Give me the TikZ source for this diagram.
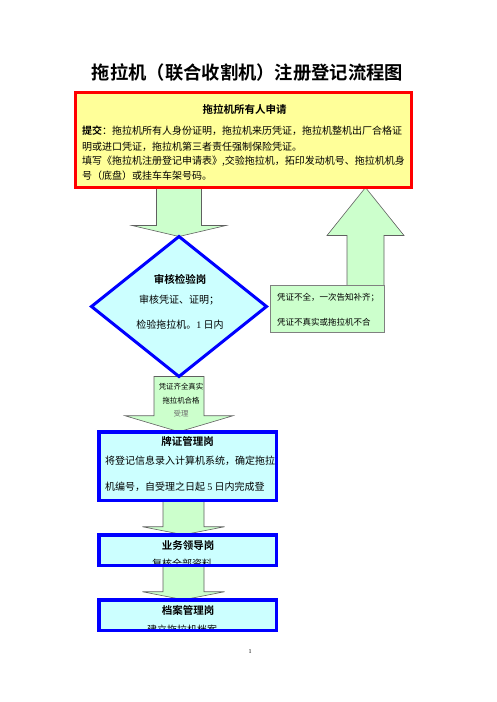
\documentclass[tikz,border=0pt]{standalone}
\usepackage{fontspec}
\setmainfont{Noto Sans CJK SC}[BoldFont={Noto Sans CJK SC Bold}]
\newfontfamily\numfont{Liberation Serif}
\usetikzlibrary{shapes.geometric,calc,backgrounds}

% block arrow: tail, tip, shaft half width, head half width, head length
\newcommand{\blockarrow}[5]{%
  \draw[flowarrow] ($(#1 -| #2)+(-#3,0)$) -- ($(#2)+(-#3,{-(#5)})$) -- ($(#2)+(-#4,{-(#5)})$) -- (#2)
    -- ($(#2)+(#4,{-(#5)})$) -- ($(#2)+(#3,{-(#5)})$) -- ($(#1 -| #2)+(#3,0)$) -- cycle ;}

\tikzset{
  body/.style={inner sep=0pt, font=\fontsize{10}{12}\selectfont, text height=8.8pt, text depth=1.2pt},
  small/.style={inner sep=0pt, font=\fontsize{8.5}{10}\selectfont, text height=7.5pt, text depth=1pt},
  tiny/.style={inner sep=0pt, font=\fontsize{7.4}{8}\selectfont, text height=6.5pt, text depth=0.9pt},
  heading/.style={inner sep=0pt, font=\bfseries\fontsize{10.5}{12}\selectfont, text height=9.2pt, text depth=1.3pt},
  applybox/.style={draw={rgb,255:red,255;green,0;blue,0}, fill={rgb,255:red,255;green,255;blue,153}, line width=3pt, inner sep=0pt, outer sep=0pt},
  bluebox/.style={draw={rgb,255:red,0;green,0;blue,255}, fill={rgb,255:red,204;green,255;blue,255}, line width=3.5pt, inner sep=0pt, outer sep=0pt},
  blueline/.style={draw={rgb,255:red,0;green,0;blue,255}, line width=3.5pt},
  notebox/.style={draw={rgb,255:red,128;green,128;blue,128}, fill={rgb,255:red,204;green,255;blue,204}, line width=0.8pt, inner sep=0pt, outer sep=0pt},
  flowarrow/.style={draw={rgb,255:red,96;green,96;blue,96}, fill={rgb,255:red,204;green,255;blue,204}, line width=0.6pt, line join=miter},
}

\begin{document}
\begin{tikzpicture}[x=1pt,y=1pt,yscale=-1,xscale=1]
        \useasboundingbox (0,0) rectangle (496,702);

        % Text Node
        \node[inner sep=0pt, font=\bfseries\fontsize{18.3}{20}\selectfont] (title) at (247.5,73) {拖拉机（联合收割机）注册登记流程图};

        %Shape: Rectangle [apply]
        \node[applybox, minimum width=336pt, minimum height=95pt] (apply) at (243.5,140) {};
        % Text Node
        \node[heading] (applytitle) at (244.5,110) {拖拉机所有人申请};
        \node[body, anchor=west] (applyline1) at (82,131) {{\bfseries 提交}：拖拉机所有人身份证明，拖拉机来历凭证，拖拉机整机出厂合格证};
        \node[body, anchor=west] (applyline2) at (82,147) {明或进口凭证，拖拉机第三者责任强制保险凭证。};
        \node[body, anchor=west] (applyline3) at (82,161) {填写《拖拉机注册登记申请表》,交验拖拉机，拓印发动机号、拖拉机机身};
        \node[body, anchor=west] (applyline4) at (82,176) {号（底盘）或挂车车架号码。};

        %Shape: Diamond [check]
        \node[diamond, draw={rgb,255:red,0;green,0;blue,255}, fill={rgb,255:red,204;green,255;blue,255}, line width=3pt, inner sep=0pt, outer sep=0pt, minimum width=175pt, minimum height=140pt] (check) at (179,306.5) {};
        % Text Node
        \node[heading] (checktitle) at (180,280) {审核检验岗};
        \node[body] (checkline1) at (179,300) {审核凭证、证明；};
        \node[body] (checkline2) at (180,325) {检验拖拉机。{\numfont 1} 日内};

        %Shape: Rectangle [reject]
        \node[notebox, minimum width=114pt, minimum height=47pt] (reject) at (327.5,309) {};
        % Text Node
        \node[small, anchor=west] (rejectline1) at (277,297) {凭证不全，一次告知补齐；};
        \node[small, anchor=west] (rejectline2) at (277,322) {凭证不真实或拖拉机不合};

        %Shape: Rectangle [record]
        \node[bluebox, minimum width=177.5pt, minimum height=68.5pt] (record) at (187.5,466) {};
        % Text Node
        \node[heading] (recordtitle) at (187.5,442) {牌证管理岗};
        \node[body, anchor=west] (recordline1) at (105,461) {将登记信息录入计算机系统，确定拖拉};
        \node[body, anchor=west] (recordline2) at (105,487) {机编号，自受理之日起 {\numfont 5} 日内完成登};

        %Shape: Rectangle [lead]
        \node[bluebox, minimum width=177.5pt, minimum height=30.5pt] (lead) at (187.5,550) {};
        % Text Node
        \node[heading] (leadtitle) at (188,546) {业务领导岗};
        \begin{scope}
          \clip (lead.north west) rectangle (lead.south east);
          \node[body, anchor=north] (leadline) at (182,558.5) {复核全部资料};
        \end{scope}
        \draw[blueline] (lead.north west) rectangle (lead.south east);

        %Shape: Rectangle [archive]
        \node[bluebox, minimum width=177.5pt, minimum height=30.5pt] (archive) at (187.5,615) {};
        % Text Node
        \node[heading] (archivetitle) at (188,610.5) {档案管理岗};
        \begin{scope}
          \clip (archive.north west) rectangle (archive.south east);
          \node[body, anchor=north] (archiveline) at (182,624) {建立拖拉机档案};
        \end{scope}
        \draw[blueline] (archive.north west) rectangle (archive.south east);

        %Block Arrows
        \coordinate (backtip) at ($(apply.south -| reject.north east)+(-19,0)$);
        \coordinate (recordtip) at (record.north -| check.south);
        \coordinate (leadtip) at ($(lead.north)+(-4,0)$);
        \coordinate (archivetip) at ($(archive.north)+(-4,0)$);
        \begin{scope}[on background layer]
          \blockarrow{apply.south}{check.north}{22.5}{47}{11}
          \blockarrow{reject.north}{backtip}{18.5}{38.5}{-48}
          \blockarrow{check.south}{recordtip}{25}{54}{16}
          \blockarrow{record.south}{leadtip}{20.5}{41}{8}
          \blockarrow{lead.south}{archivetip}{20.5}{41}{8}
        \end{scope}

        % Text Node
        \node[tiny] (passline1) at (181,387) {凭证齐全真实};
        \node[tiny] (passline2) at (181,401) {拖拉机合格};
        \node[tiny, text={rgb,255:red,110;green,110;blue,110}] (passline3) at (181,414) {受理};

        % Text Node
        \node[inner sep=0pt, font=\numfont\fontsize{6}{7}\selectfont] (pageno) at (250,652) {1};
\end{tikzpicture}
\end{document}
